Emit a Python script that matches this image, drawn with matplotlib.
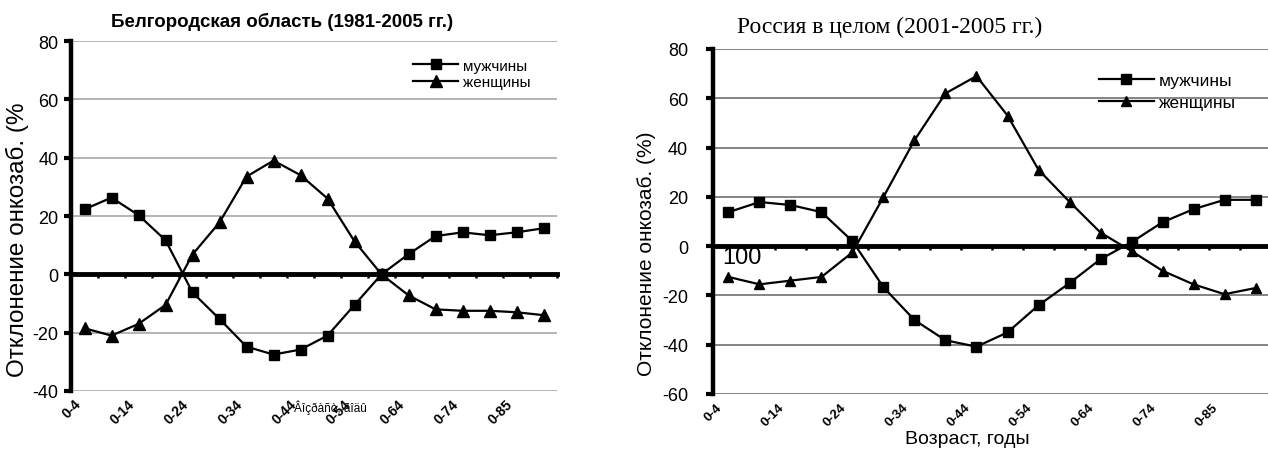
import numpy as np
import matplotlib
matplotlib.use("Agg")
import matplotlib.pyplot as plt

plt.rcParams['font.family'] = ['Liberation Sans', 'DejaVu Sans']
plt.rcParams['axes.unicode_minus'] = False

categories = ["0-4", "5-9", "10-14", "15-19", "20-24", "25-29", "30-34", "35-39", "40-44",
              "45-49", "50-54", "55-59", "60-64", "65-69", "70-74", "75-79", "80-84", "85+"]
tick_labels = ["0-4", "0-14", "0-24", "0-34", "0-44", "0-54", "0-64", "0-74", "0-85"]

left_men = [22.3, 26.3, 20.3, 11.7, -6.2, -15.3, -24.8, -27.5, -25.8, -21.0, -10.5, 0.0,
            6.9, 13.1, 14.4, 13.4, 14.4, 15.8]
left_women = [-18.5, -21.0, -17.0, -10.5, 6.8, 17.8, 33.5, 39.0, 34.0, 26.0, 11.3, 0.0,
              -7.2, -12.0, -12.5, -12.5, -13.0, -14.0]
right_men = [13.8, 17.9, 16.7, 13.8, 2.0, -16.7, -30.0, -38.2, -40.8, -35.0, -24.0, -15.0,
             -5.3, 1.6, 9.7, 15.0, 18.8, 18.8]
right_women = [-12.5, -15.5, -14.0, -12.5, -2.5, 20.0, 43.0, 62.0, 69.0, 53.0, 31.0, 18.0,
               5.5, -2.0, -10.0, -15.5, -19.5, -17.0]

series_names = ["мужчины", "женщины"]

W, H = 1268, 452
fig = plt.figure(figsize=(W / 100, H / 100), dpi=100)


def px(x0, y0, x1, y1):
    return [x0 / W, 1 - y1 / H, (x1 - x0) / W, (y1 - y0) / H]


def setup(ax, ylim, yticks, gridcolor, tick_fs, lab_pad, xt_fs, xt_pad):
    x = np.arange(len(categories))
    ax.set_xlim(-0.5, len(categories) - 0.5)
    ax.set_ylim(*ylim)
    ax.set_yticks(yticks)
    ax.tick_params(axis='y', direction='out', length=5, width=3, labelsize=tick_fs, pad=lab_pad)
    ax.yaxis.grid(True, color=gridcolor, lw=1.2)
    ax.set_axisbelow(True)
    for s in ['top', 'right']:
        ax.spines[s].set_visible(False)
    ax.spines['left'].set_linewidth(3.2)
    ax.spines['bottom'].set_position(('data', 0))
    ax.spines['bottom'].set_linewidth(3.5)
    ax.set_xticks([])
    ax.set_xticks(np.arange(len(categories) + 1) - 0.5, minor=True)
    ax.tick_params(axis='x', which='minor', direction='out', length=3, width=1.8)
    sec = ax.secondary_xaxis('bottom')
    sec.spines['bottom'].set_visible(False)
    sec.set_xticks(x[::2] - 0.4)
    sec.set_xticklabels(tick_labels, rotation=45, ha='right', va='top',
                        rotation_mode='anchor', fontweight='bold', fontsize=xt_fs)
    sec.tick_params(length=0, pad=xt_pad)
    return x


# ---------- left chart ----------
ax1 = fig.add_axes(px(71, 42, 557, 392))
x = setup(ax1, (-40, 80), np.arange(-40, 81, 20), '#a8a8a8', 13, 4, 10, 4)
l1, = ax1.plot(x, left_men, color='black', lw=1.6, marker='s', ms=7.5, zorder=4,
               label=series_names[0], clip_on=False)
l2, = ax1.plot(x, left_women, color='black', lw=1.6, marker='^', ms=9, zorder=4,
               label=series_names[1], clip_on=False)
ax1.set_ylabel("Отклонение онкозаб. (%", fontsize=17.5)
ax1.yaxis.set_label_coords((29 - 71) / 486, 0.434)
fig.text(282 / W, 1 - 22 / H, "Белгородская область (1981-2005 гг.)", ha='center', va='center',
         fontsize=13.5, fontweight='bold')
fig.text(330 / W, 1 - 408 / H, "Âîçðàñò, ãîäû", ha='center', va='center', fontsize=8.5)
ax1.legend(handles=[l1, l2], loc='upper left', bbox_to_anchor=(405 / W, 1 - 52 / H),
           bbox_transform=fig.transFigure, frameon=False, fontsize=11, handlelength=3,
           handletextpad=0.3, labelspacing=0.15, borderpad=0, markerscale=0.9)

# ---------- right chart ----------
ax2 = fig.add_axes(px(713, 50, 713 + 18 * 31, 395))
x = setup(ax2, (-60, 80), np.arange(-60, 81, 20), '#707070', 13, 13, 9.5, 5)
r1, = ax2.plot(x, right_men, color='black', lw=1.6, marker='s', ms=7, zorder=4,
               label=series_names[0])
r2, = ax2.plot(x, right_women, color='black', lw=1.6, marker='^', ms=6.5, zorder=4,
               label=series_names[1])
ax2.set_ylabel("Отклонение онкозаб. (%)", fontsize=15)
ax2.yaxis.set_label_coords((656 - 713) / 558, 0.41)
fig.text(890 / W, 1 - 27 / H, "Россия в целом (2001-2005 гг.)", ha='center', va='center',
         fontsize=17, family=['Liberation Serif', 'DejaVu Serif'])
fig.text(967 / W, 1 - 440 / H, "Возраст, годы", ha='center', va='center', fontsize=14)
ax2.text(0.016, 0.397, "100", transform=ax2.transAxes, fontsize=17, ha='left', va='center')
ax2.legend(handles=[r1, r2], loc='upper left', bbox_to_anchor=(1090 / W, 1 - 65 / H),
           bbox_transform=fig.transFigure, frameon=False, fontsize=12.5, handlelength=3.2,
           handletextpad=0.25, labelspacing=0.4, borderpad=0)

fig.savefig("out.png", dpi=100)
